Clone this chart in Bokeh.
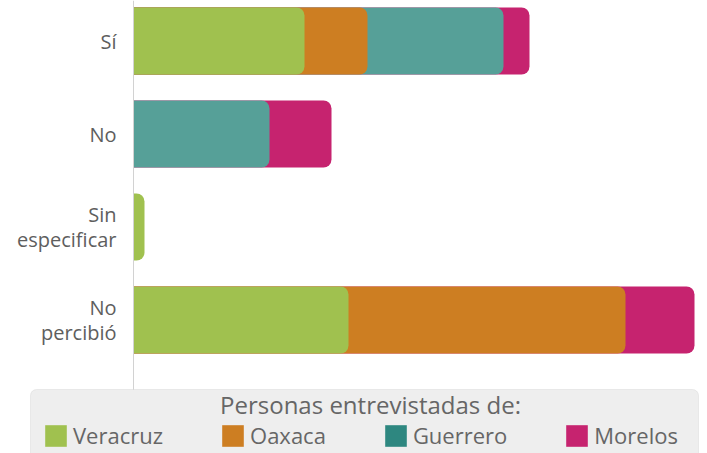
from bokeh.plotting import figure
from bokeh.models import Range1d, Legend, LegendItem, Label, HBar, Span, BoxAnnotation
from bokeh.core.properties import value
from bokeh.embed import file_html
from bokeh.resources import INLINE

# ---- data ----
categories = ["Sí", "No", "Sin\nespecificar", "No\npercibió"]
states = ["Veracruz", "Oaxaca", "Guerrero", "Morelos"]
veracruz = [17.1, 0.0, 1.1, 21.5]
oaxaca = [6.3, 0.0, 0.0, 27.7]
guerrero = [13.6, 13.6, 0.0, 0.0]
morelos = [2.6, 6.2, 0.0, 6.9]
legend_title = "Personas entrevistadas de:"

bar_colors = ["#a0c14f", "#cd7e22", "#56a098", "#c6236f"]
legend_colors = ["#a0c14f", "#cd7e22", "#2e8780", "#c6236f"]

series = [veracruz, oaxaca, guerrero, morelos]
n = len(categories)
ypos = [n - 1 - i for i in range(n)]

FONT = "Open Sans"
W, H = 707, 453
X0_PX, PX_PER_X = 133, 10.0       # x = 0 at 133 px
Y_TOP, PX_PER_Y = 3.4355, 93.0    # category spacing 93 px

def xd(px):
    return (px - X0_PX) / PX_PER_X

def yd(px):
    return Y_TOP - px / PX_PER_Y

p = figure(width=W, height=H,
           x_range=Range1d(xd(0), xd(W)),
           y_range=Range1d(yd(H), yd(0)),
           output_backend="svg", toolbar_location=None,
           x_axis_location=None, y_axis_location=None,
           min_border_left=0, min_border_right=0,
           min_border_top=0, min_border_bottom=0)
p.outline_line_color = None
p.xgrid.grid_line_color = None
p.ygrid.grid_line_color = None

# vertical axis line at x = 0
p.add_layout(Span(location=0, dimension="height", line_color="#d2d2d2",
                  line_width=1))

# category labels
p.text(x=0, y=ypos, text=categories, x_offset=-17,
       text_align="right", text_baseline="middle",
       text_font=value(FONT), text_font_size=value("20px"),
       text_color="#5e5e5e", text_line_height=0.9)

has_radius = "border_radius" in HBar.properties()

# cumulative extents; draw from last series to first so earlier ones overlap
cums = []
running = [0.0] * n
for s in series:
    running = [running[i] + s[i] for i in range(n)]
    cums.append(list(running))

for j in reversed(range(len(series))):
    ys = [ypos[i] for i in range(n) if series[j][i] > 0]
    rs = [cums[j][i] for i in range(n) if series[j][i] > 0]
    kw = dict(y=ys, left=0, right=rs, height=0.72,
              fill_color=bar_colors[j], line_color=None)
    if has_radius:
        kw["border_radius"] = (0, 8, 8, 0)
    p.hbar(**kw)

# ---- legend box ----
box = BoxAnnotation(left=xd(30), right=xd(698), top=yd(389), bottom=yd(475),
                    fill_color="#eeeeee", fill_alpha=1,
                    line_color="#c8c8c8", line_width=1)
if "border_radius" in BoxAnnotation.properties():
    box.border_radius = 6
p.add_layout(box)

# zero-width renderers that only carry the legend swatch colours
rends = [p.hbar(y=[ypos[0]], left=[0], right=[0], height=0.1,
                fill_color=c, line_color=None)
         for c in legend_colors]

legend = Legend(items=[LegendItem(label=states[k], renderers=[rends[k]])
                       for k in range(len(states))],
                orientation="horizontal", location=(42, 3),
                margin=0, padding=12, spacing=56,
                glyph_width=27, glyph_height=27, label_standoff=4,
                label_text_font=FONT, label_text_font_size="22px",
                label_text_color="#666666",
                background_fill_alpha=0, border_line_color=None)
p.add_layout(legend)

p.add_layout(Label(x=370, y=H - 404, x_units="screen", y_units="screen",
                   text=legend_title, text_align="center",
                   text_baseline="middle", text_font=FONT,
                   text_font_size="24px", text_color="#666666"))

open("out.html", "w").write(file_html(p, INLINE))
